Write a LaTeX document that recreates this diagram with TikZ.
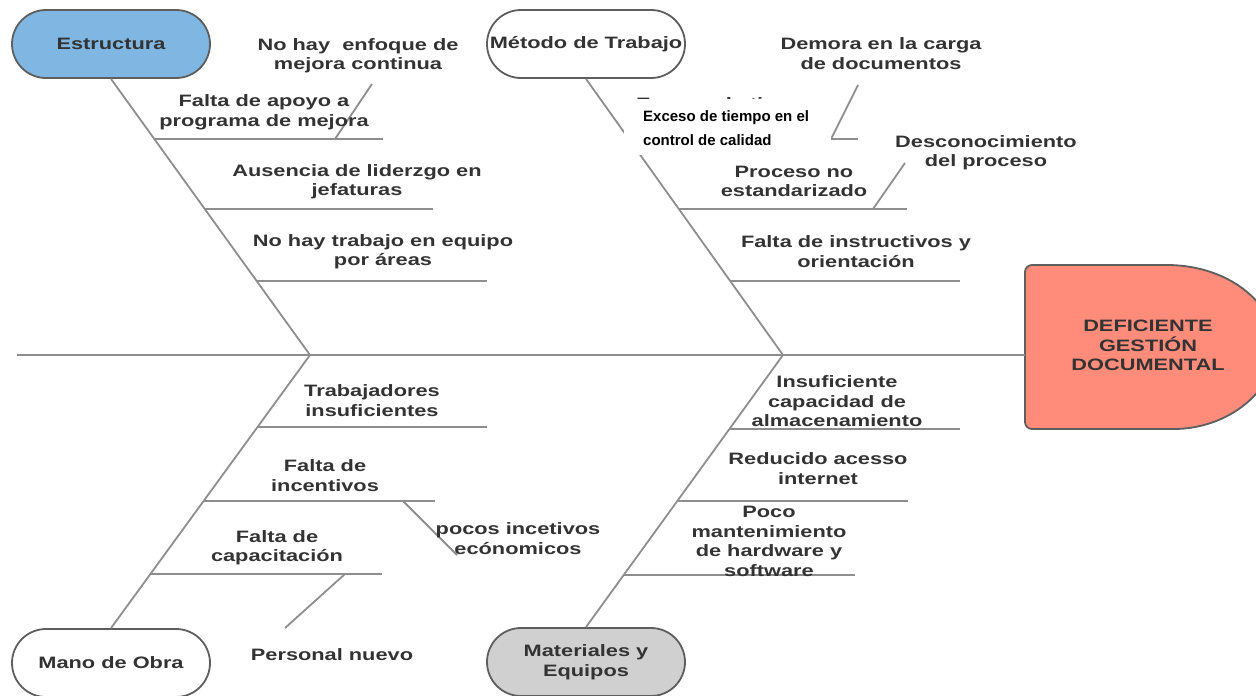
\documentclass[tikz,border=0pt]{standalone}
\usepackage{fontspec}
\newfontfamily\lblfont{Liberation Sans}[FakeStretch=1.32]
\newfontfamily\notefont{Liberation Sans}
\definecolor{bonegray}{HTML}{8E8E8E}
\definecolor{edgegray}{HTML}{5E5E5E}
\definecolor{txtgray}{HTML}{333333}
\definecolor{catblue}{HTML}{7FB7E2}
\definecolor{catgray}{HTML}{D0D0D0}
\definecolor{headred}{HTML}{FF8C7B}
\begin{document}
\begin{tikzpicture}[x=1pt,y=-1pt,
  bone/.style={draw=bonegray,line width=1.8pt},
  lbl/.style={font=\lblfont\bfseries\fontsize{16.5}{19.5}\selectfont},
  catbox/.style={lbl,draw=edgegray,line width=1.8pt,rounded corners=34pt,
    minimum width=198pt,minimum height=68pt,inner sep=0pt,text=txtgray,align=center},
  cause/.style={lbl,inner sep=0pt,align=center,text=txtgray,yshift=-1.5pt},
]
\useasboundingbox (0,0) rectangle (1256,696);
\clip (0,0) rectangle (1256,696);

% effect head
\draw[fill=headred,draw=edgegray,line width=1.8pt]
  (1167,265) [rounded corners=7pt] -- (1025,265) -- (1025,429) -- (1167,429)
  [sharp corners] arc[start angle=90,end angle=-90,x radius=108,y radius=82] -- cycle;
\node[cause] (effect) at (1148,344) {DEFICIENTE\\GESTIÓN\\DOCUMENTAL};

% category boxes
\node[catbox,fill=catblue] (estructura) at (111,44) {Estructura};
\node[catbox,fill=white] (metodo) at (586,44) {Método de Trabajo};
\node[catbox,fill=white] (mano) at (111,663) {Mano de Obra};
\node[catbox,fill=catgray] (materiales) at (586,662) {Materiales y\\Equipos};

% spine and main bones
\coordinate (tail) at (17,355);
\coordinate (headL) at (1025,355);
\coordinate (jA) at (310,355);
\coordinate (jB) at (783,355);
\draw[bone] (tail) -- (headL);
\draw[bone] (estructura.south) -- (jA);
\draw[bone] (metodo.south) -- (jB);
\draw[bone] (jA) -- (mano.north);
\draw[bone] (jB) -- (materiales.north);

% Estructura branches
\coordinate (e1) at (155,139); \coordinate (e1r) at (383,139);
\coordinate (e2) at (205,209); \coordinate (e2r) at (433,209);
\coordinate (e3) at (257,281); \coordinate (e3r) at (487,281);
\coordinate (e1t) at (372,84); \coordinate (e1b) at (335,139);
\draw[bone] (e1) -- (e1r);
\draw[bone] (e2) -- (e2r);
\draw[bone] (e3) -- (e3r);
\draw[bone] (e1t) -- (e1b);
\node[cause] (c1) at (358,54) {No hay\ \ enfoque de\\mejora continua};
\node[cause] (c2) at (264,111) {Falta de apoyo a\\programa de mejora};
\node[cause] (c3) at (357,180) {Ausencia de liderzgo en\\jefaturas};
\node[cause] (c4) at (383,250) {No hay trabajo en equipo\\por áreas};

% Método de Trabajo branches
\coordinate (m1) at (629,139); \coordinate (m1r) at (858,139);
\coordinate (m2) at (679,209); \coordinate (m2r) at (907,209);
\coordinate (m3) at (730,281); \coordinate (m3r) at (960,281);
\coordinate (m1t) at (858,85); \coordinate (m1b) at (831,139);
\coordinate (m2t) at (905,163); \coordinate (m2b) at (873,209);
\draw[bone] (m1) -- (m1r);
\draw[bone] (m2) -- (m2r);
\draw[bone] (m3) -- (m3r);
\draw[bone] (m1t) -- (m1b);
\draw[bone] (m2t) -- (m2b);
\node[cause,anchor=north west,align=left,yshift=0pt] (c6) at (636,95.5) {Exceso de tiempo\\en el control\\de calidad};
\node[cause] (c5) at (881,52) {Demora en la carga\\de documentos};
\node[cause] (c7) at (986,151) {Desconocimiento\\del proceso};
\node[cause] (c8) at (794,180) {Proceso no\\estandarizado};
\node[cause] (c9) at (856,250) {Falta de instructivos y\\orientación};

% note pasted over the branch
\fill[white] (624,99) rectangle (831,155);
\node[anchor=north west,inner sep=0pt,align=left,
  font=\notefont\bfseries\fontsize{15}{24}\selectfont] (note) at (643,110.5)
  {Exceso de tiempo en el\\control de calidad};

% Mano de Obra branches
\coordinate (w1) at (258,427); \coordinate (w1r) at (487,427);
\coordinate (w2) at (204,501); \coordinate (w2r) at (435,501);
\coordinate (w3) at (151,574); \coordinate (w3r) at (382,574);
\coordinate (w2t) at (403,501); \coordinate (w2b) at (457,555);
\coordinate (w3t) at (345,574); \coordinate (w3b) at (285,628);
\draw[bone] (w1) -- (w1r);
\draw[bone] (w2) -- (w2r);
\draw[bone] (w3) -- (w3r);
\draw[bone] (w2t) -- (w2b);
\draw[bone] (w3t) -- (w3b);
\node[cause] (c10) at (372,399) {Trabajadores\\insuficientes};
\node[cause] (c11) at (325,474) {Falta de\\incentivos};
\node[cause] (c12) at (518,537) {pocos incetivos\\ecónomicos};
\node[cause] (c13) at (277,546) {Falta de\\capacitación};
\node[cause] (c14) at (332,653) {Personal nuevo};

% Materiales y Equipos branches
\coordinate (q1) at (729,429); \coordinate (q1r) at (960,429);
\coordinate (q2) at (677,501); \coordinate (q2r) at (908,501);
\coordinate (q3) at (624,575); \coordinate (q3r) at (855,575);
\draw[bone] (q1) -- (q1r);
\draw[bone] (q2) -- (q2r);
\draw[bone] (q3) -- (q3r);
\node[cause] (c15) at (837,400) {Insuficiente\\capacidad de\\almacenamiento};
\node[cause] (c16) at (818,467) {Reducido acesso\\internet};
\node[cause] (c17) at (769,540) {Poco\\mantenimiento\\de hardware y\\software};
\end{tikzpicture}
\end{document}
